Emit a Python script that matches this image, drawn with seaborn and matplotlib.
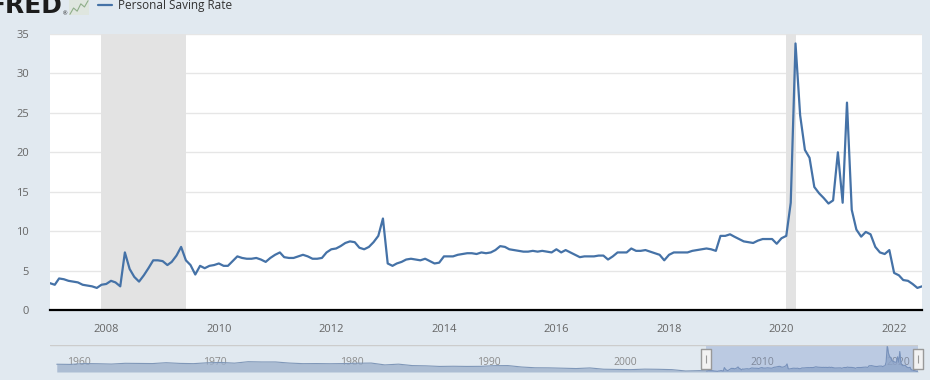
import numpy as np
import pandas as pd
import matplotlib
matplotlib.use("Agg")
import matplotlib.pyplot as plt
import matplotlib.dates as mdates
from matplotlib.path import Path
import seaborn as sns

# Personal saving rate, monthly, Jan 2007 - Jul 2022 (percent)
rate_2007 = [3.4, 3.2, 4.0, 3.9, 3.7, 3.6, 3.5, 3.2, 3.1, 3.0, 2.8, 3.2]
rate_2008 = [3.3, 3.7, 3.5, 3.0, 7.3, 5.2, 4.2, 3.6, 4.4, 5.3, 6.3, 6.3]
rate_2009 = [6.2, 5.7, 6.1, 6.9, 8.0, 6.3, 5.7, 4.5, 5.6, 5.3, 5.6, 5.7]
rate_2010 = [5.9, 5.6, 5.6, 6.2, 6.8, 6.6, 6.5, 6.5, 6.6, 6.4, 6.1, 6.6]
rate_2011 = [7.0, 7.3, 6.7, 6.6, 6.6, 6.8, 7.0, 6.8, 6.5, 6.5, 6.6, 7.3]
rate_2012 = [7.7, 7.8, 8.1, 8.5, 8.7, 8.6, 7.9, 7.7, 8.0, 8.6, 9.4, 11.6]
rate_2013 = [5.9, 5.6, 5.9, 6.1, 6.4, 6.5, 6.4, 6.3, 6.5, 6.2, 5.9, 6.0]
rate_2014 = [6.8, 6.8, 6.8, 7.0, 7.1, 7.2, 7.2, 7.1, 7.3, 7.2, 7.3, 7.6]
rate_2015 = [8.1, 8.0, 7.7, 7.6, 7.5, 7.4, 7.4, 7.5, 7.4, 7.5, 7.4, 7.3]
rate_2016 = [7.7, 7.3, 7.6, 7.3, 7.0, 6.7, 6.8, 6.8, 6.8, 6.9, 6.9, 6.4]
rate_2017 = [6.8, 7.3, 7.3, 7.3, 7.8, 7.5, 7.5, 7.6, 7.4, 7.2, 7.0, 6.3]
rate_2018 = [7.0, 7.3, 7.3, 7.3, 7.3, 7.5, 7.6, 7.7, 7.8, 7.7, 7.5, 9.4]
rate_2019 = [9.4, 9.6, 9.3, 9.0, 8.7, 8.6, 8.5, 8.8, 9.0, 9.0, 9.0, 8.4]
rate_2020 = [9.1, 9.4, 13.6, 33.8, 24.7, 20.3, 19.3, 15.6, 14.8, 14.2, 13.5, 13.9]
rate_2021 = [20.0, 13.6, 26.3, 12.7, 10.2, 9.3, 9.9, 9.6, 8.0, 7.3, 7.1, 7.6]
rate_2022 = [4.7, 4.4, 3.8, 3.7, 3.3, 2.8, 3.0]

# annual averages 1959-2006 for the navigator strip
nav_years = list(range(1959, 2007))
nav_rate = [11.2, 11.0, 12.0, 11.8, 11.4, 12.3, 12.2, 12.0, 13.0, 12.2,
            11.9, 12.9, 13.3, 12.5, 14.2, 13.9, 13.9, 12.6, 11.9, 12.0,
            11.8, 12.0, 12.4, 12.6, 10.4, 11.3, 9.6, 9.3, 8.6, 8.8,
            8.6, 8.7, 9.5, 9.6, 7.9, 7.0, 6.9, 6.5, 6.1, 6.8,
            5.3, 5.1, 4.8, 5.4, 5.2, 4.8, 3.2, 3.6]

recessions = [("2007-12-01", "2009-06-01"), ("2020-02-01", "2020-04-01")]
year_ticks = [2008, 2010, 2012, 2014, 2016, 2018, 2020, 2022]
nav_label_years = [1960, 1970, 1980, 1990, 2000, 2010, 2020]
icon_trend = [1.0, 2.2, 1.6, 3.0, 2.4, 3.6]

rate = (rate_2007 + rate_2008 + rate_2009 + rate_2010 + rate_2011 + rate_2012 +
        rate_2013 + rate_2014 + rate_2015 + rate_2016 + rate_2017 + rate_2018 +
        rate_2019 + rate_2020 + rate_2021 + rate_2022)
dates = pd.date_range("2007-01-01", periods=len(rate), freq="MS")
df = pd.DataFrame({"date": dates, "rate": rate})

nav_df = pd.concat([
    pd.DataFrame({"date": pd.to_datetime([f"{y}-07-01" for y in nav_years]), "rate": nav_rate}),
    df,
], ignore_index=True)

BG = "#e1e9f0"
LINE = "#4572a7"
GREY_TXT = "#666666"

sns.set_theme(style="white")
plt.rcParams["font.family"] = ["Open Sans", "DejaVu Sans"]

fig = plt.figure(figsize=(9.3, 3.8), dpi=100, facecolor=BG)
W, H = 930, 380

ax = fig.add_axes([50 / W, 1 - 310 / H, 872 / W, 276 / H])
ax.set_facecolor("white")
for start, end in recessions:
    ax.axvspan(pd.Timestamp(start), pd.Timestamp(end), color="#e3e3e3", lw=0, zorder=1)
sns.lineplot(data=df, x="date", y="rate", color=LINE, lw=1.6, ax=ax, zorder=3)
ax.set_xlim(dates[0], dates[-1])
ax.set_ylim(0, 35)
ax.set_yticks(range(0, 36, 5))
ax.yaxis.grid(True, color="#e6e6e6", lw=1, zorder=0)
ax.set_axisbelow(True)
ax.set_xticks([pd.Timestamp(f"{y}-01-01") for y in year_ticks])
ax.xaxis.set_major_formatter(mdates.DateFormatter("%Y"))
ax.tick_params(axis="y", length=0, pad=15, labelsize=8, labelcolor=GREY_TXT)
ax.tick_params(axis="x", length=7, width=1, color="#ccd6eb", pad=3,
               labelsize=8, labelcolor=GREY_TXT)
for s in ["top", "right", "left"]:
    ax.spines[s].set_visible(False)
ax.spines["bottom"].set_color("black")
ax.spines["bottom"].set_linewidth(1.6)
ax.spines["bottom"].set_zorder(5)
ax.set_xlabel("")
ax.set_ylabel("")

fig.text(-4 / W, 1 - 172 / H, "Percent", rotation=90, ha="center", va="center",
         fontsize=9, color=GREY_TXT)

# header: logo and legend
fig.text(-11 / W, 1 - 13 / H, "FRED", fontsize=18, fontweight="bold",
         color="#1c1c1c", ha="left", va="baseline", family="DejaVu Sans")
fig.text(63 / W, 1 - 15 / H, "®", fontsize=4, color="#1c1c1c", ha="left", va="baseline")
icon = fig.add_axes([69 / W, 1 - 15 / H, 20 / W, 15 / H])
icon.set_facecolor("#dfe6df")
icon.plot(range(len(icon_trend)), icon_trend, color="#8fae8a", lw=0.8)
icon.set_xticks([])
icon.set_yticks([])
for s in icon.spines.values():
    s.set_visible(False)
fig.add_artist(plt.Line2D([98 / W, 112 / W], [1 - 5 / H, 1 - 5 / H], color=LINE, lw=1.6))
fig.text(118 / W, 1 - 5 / H, "Personal Saving Rate", fontsize=8.5, color="#333333",
         ha="left", va="center")

# navigator strip
nav = fig.add_axes([50 / W, 1 - 372 / H, 868 / W, 27 / H])
nav.set_facecolor(BG)
for y in nav_label_years:
    nav.text(pd.Timestamp(f"{y}-01-01") + pd.Timedelta(days=80), 7, str(y),
             fontsize=7.5, color="#8a8a8a", ha="left", va="bottom", zorder=1)
nav.fill_between(nav_df["date"], 2, nav_df["rate"], color="#9fb2cc", alpha=0.8, lw=0, zorder=2)
sns.lineplot(data=nav_df, x="date", y="rate", color="#7f97b8", lw=0.8, ax=nav, zorder=3)
nav.set_xlim(pd.Timestamp("1959-01-01"), dates[-1])
nav.set_ylim(2, 34)
nav.axvspan(dates[0], dates[-1], color="#6685c2", alpha=0.3, lw=0, zorder=4)
handle = Path([(-0.45, -1), (0.45, -1), (0.45, 1), (-0.45, 1), (-0.45, -1)])
for d in [dates[0], dates[-1]]:
    nav.plot([d], [18], marker=handle, ms=15, mfc="#f2f2f2", mec="#999999", mew=1,
             zorder=6, clip_on=False)
    nav.plot([d], [18], marker="|", ms=6, mec="#999999", mew=0.8, zorder=7, clip_on=False)
nav.axhline(34, color="#cccccc", lw=1, zorder=5)
nav.set_xticks([])
nav.set_yticks([])
nav.set_xlabel("")
nav.set_ylabel("")
for s in nav.spines.values():
    s.set_visible(False)

fig.savefig("out.png", dpi=100, facecolor=BG)
